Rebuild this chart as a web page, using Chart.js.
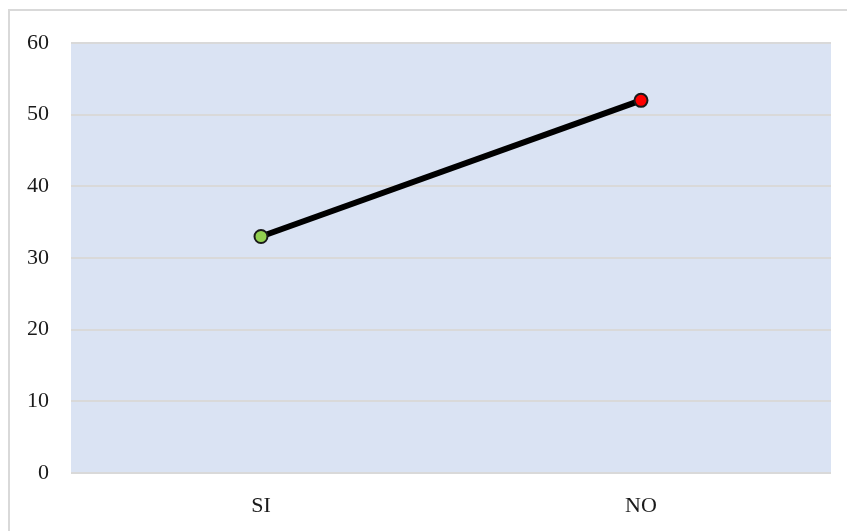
<!DOCTYPE html>
<html>
<head>
<meta charset="utf-8">
<script src="https://cdn.jsdelivr.net/npm/chart.js@4"></script>
<style>
  html, body { margin: 0; padding: 0; background: #fff; }
  #wrap { position: relative; width: 847px; height: 531px; }
  #frame { position: absolute; left: 8px; top: 9px; right: 0; bottom: 0;
           border-left: 2px solid #d9d9d9; border-top: 2px solid #d9d9d9; }
  canvas { position: absolute; left: 0; top: 0; }
</style>
</head>
<body>
<div id="wrap">
  <div id="frame"></div>
  <canvas id="chart" width="847" height="531"></canvas>
</div>
<script>
const categories = ['SI', 'NO'];
const values = [33, 52];
const pointColors = ['#92d050', '#ff0000'];
const yMin = 0, yMax = 60, yStep = 10;

// plot area background
const plotBg = {
  id: 'plotBg',
  beforeDraw(chart) {
    const { ctx, chartArea: a } = chart;
    ctx.save();
    ctx.fillStyle = '#dae3f3';
    ctx.fillRect(a.left, a.top, a.right - a.left, a.bottom - a.top);
    ctx.restore();
  }
};

const tickFont = { family: 'Liberation Serif', size: 22 };

new Chart(document.getElementById('chart'), {
  type: 'line',
  data: {
    labels: categories,
    datasets: [{
      data: values,
      borderColor: '#000',
      borderWidth: 6,
      pointBackgroundColor: pointColors,
      pointBorderColor: '#1a1a1a',
      pointBorderWidth: 2,
      pointRadius: 6.5,
      tension: 0
    }]
  },
  options: {
    responsive: false,
    animation: false,
    layout: { padding: { left: 0, right: 16, top: 43, bottom: 0 } },
    plugins: { legend: { display: false }, tooltip: { enabled: false } },
    scales: {
      x: {
        offset: true,
        grid: { display: false, drawTicks: false },
        border: { display: false },
        ticks: { color: '#1a1a1a', padding: 20, font: tickFont },
        afterFit(s) { s.height = 58; }
      },
      y: {
        min: yMin,
        max: yMax,
        grid: { color: '#d9d9d9', lineWidth: 2, drawTicks: false },
        border: { display: false },
        ticks: { stepSize: yStep, color: '#1a1a1a', padding: 22, font: tickFont },
        afterFit(s) { s.width = 71; }
      }
    }
  },
  plugins: [plotBg]
});
</script>
</body>
</html>
